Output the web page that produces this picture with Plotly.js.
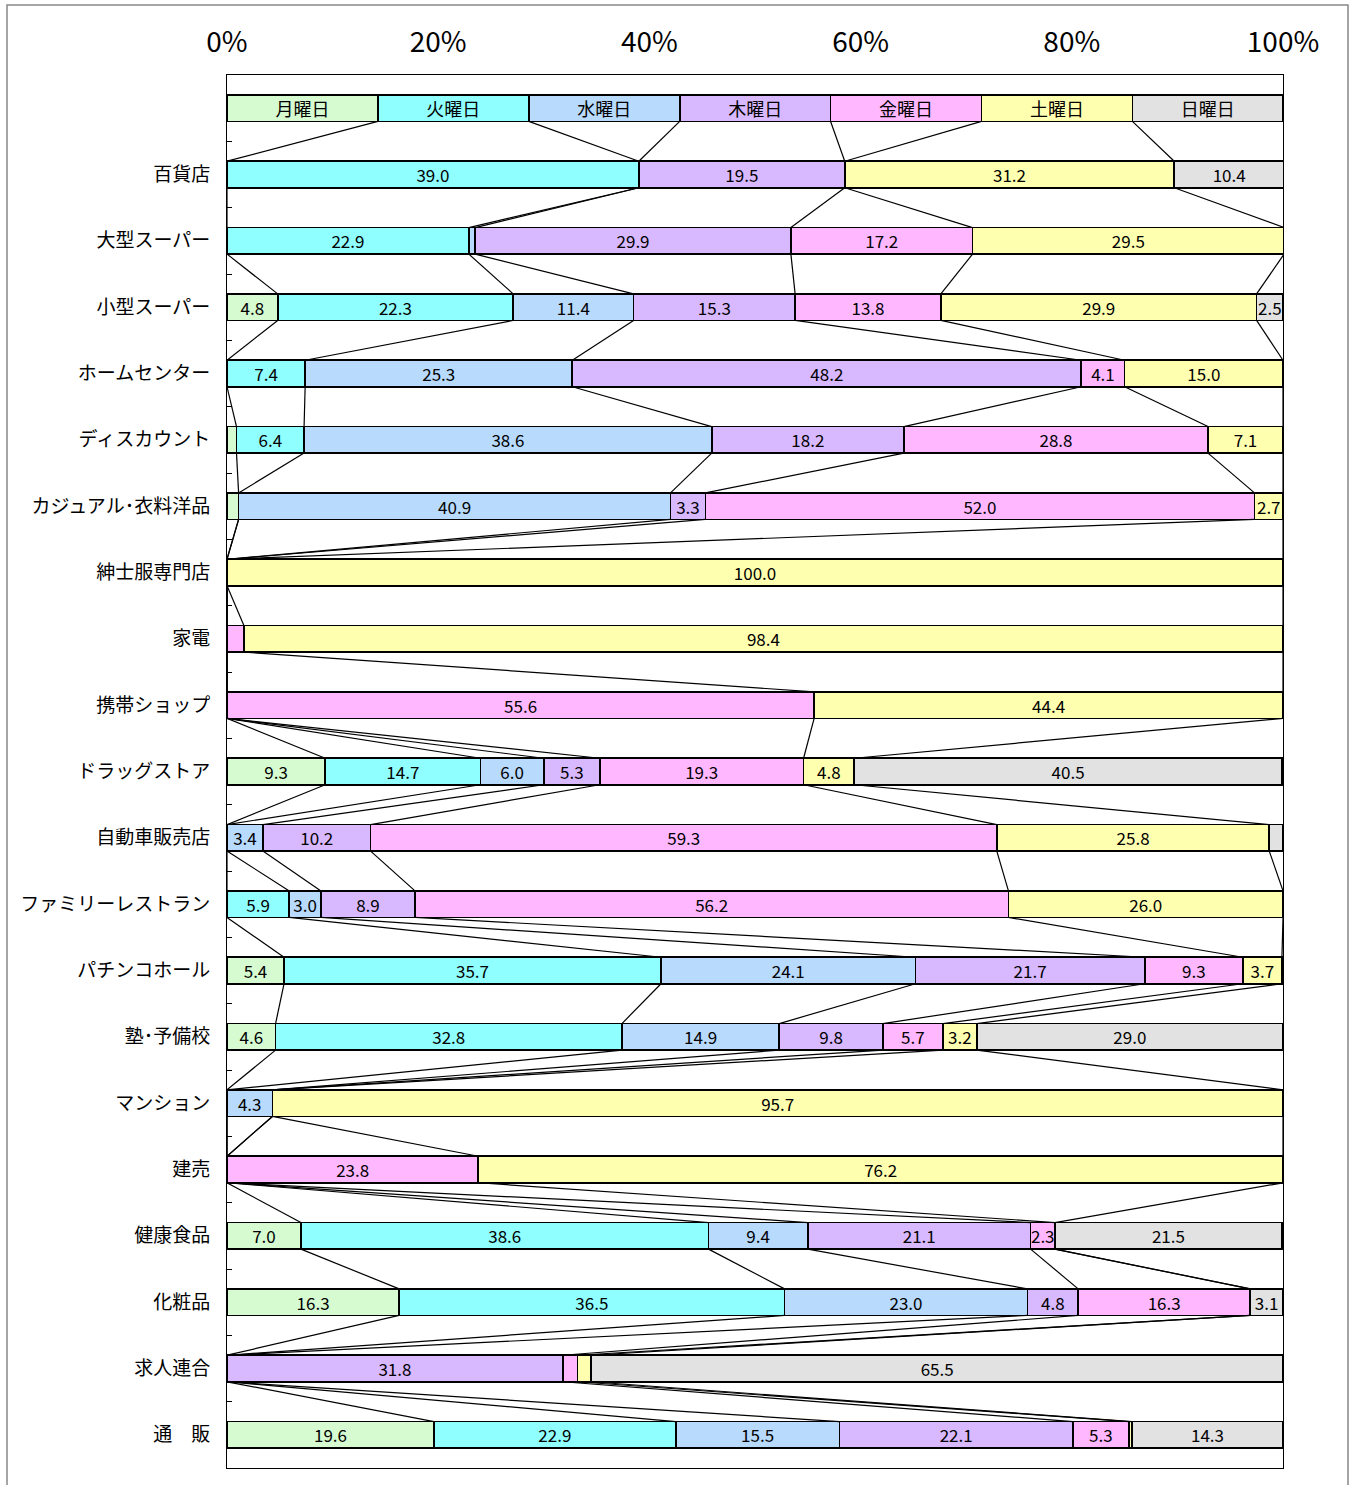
<!DOCTYPE html>
<html>
<head>
<meta charset="utf-8">
<script src="https://cdn.plot.ly/plotly-3.0.1.min.js"></script>
<style>
  body { margin: 0; background: #fff; }
  #chart { width: 1352px; height: 1485px; }
</style>
</head>
<body>
<div id="chart"></div>
<script>
// days (series) and their fill colours
const days = ['月曜日', '火曜日', '水曜日', '木曜日', '金曜日', '土曜日', '日曜日'];
const dayColors = ['#d6fbd0', '#90ffff', '#b8dafd', '#d8b8ff', '#ffb8ff', '#ffffb0', '#e2e2e2'];

// legend row at the top: seven equal parts
const legendShare = [14.29, 14.29, 14.29, 14.29, 14.29, 14.29, 14.29];

const categories = [
  '百貨店', '大型スーパー', '小型スーパー', 'ホームセンター', 'ディスカウント',
  'カジュアル･衣料洋品', '紳士服専門店', '家電', '携帯ショップ', 'ドラッグストア',
  '自動車販売店', 'ファミリーレストラン', 'パチンコホール', '塾･予備校', 'マンション',
  '建売', '健康食品', '化粧品', '求人連合', '通　販'
];

// share (%) per day of week, one value per category
const mon = [0, 0, 4.8, 0, 0.9, 1.1, 0, 0, 0, 9.3, 0, 0, 5.4, 4.6, 0, 0, 7.0, 16.3, 0, 19.6];
const tue = [39.0, 22.9, 22.3, 7.4, 6.4, 0, 0, 0, 0, 14.7, 0, 5.9, 35.7, 32.8, 0, 0, 38.6, 36.5, 0, 22.9];
const wed = [0, 0.6, 11.4, 25.3, 38.6, 40.9, 0, 0, 0, 6.0, 3.4, 3.0, 24.1, 14.9, 4.3, 0, 9.4, 23.0, 0, 15.5];
const thu = [19.5, 29.9, 15.3, 48.2, 18.2, 3.3, 0, 0, 0, 5.3, 10.2, 8.9, 21.7, 9.8, 0, 0, 21.1, 4.8, 31.8, 22.1];
const fri = [0, 17.2, 13.8, 4.1, 28.8, 52.0, 0, 1.6, 55.6, 19.3, 59.3, 56.2, 9.3, 5.7, 0, 23.8, 2.3, 16.3, 1.4, 5.3];
const sat = [31.2, 29.5, 29.9, 15.0, 7.1, 2.7, 100.0, 98.4, 44.4, 4.8, 25.8, 26.0, 3.7, 3.2, 95.7, 76.2, 0, 0, 1.3, 0.3];
const sun = [10.4, 0, 2.5, 0, 0, 0, 0, 0, 0, 40.5, 1.3, 0, 0, 29.0, 0, 0, 21.5, 3.1, 65.5, 14.3];

const series = [mon, tue, wed, thu, fri, sat, sun];
const xTicks = [0, 20, 40, 60, 80, 100];

const BAR_W = 0.4;
const numFont = 'Liberation Sans Narrow, Arial Narrow, Noto Sans CJK JP, sans-serif';
const jpFont = 'Noto Sans CJK JP, sans-serif';

// row 0 is the legend bar, rows 1..n are categories
const rows = [0].concat(categories.map((c, i) => i + 1));
const rowVals = series.map((s, d) => [legendShare[d]].concat(s));

// cumulative right edges per series
const cum = [];
rowVals.forEach((vals, d) => {
  cum.push(vals.map((v, r) => (d > 0 ? cum[d - 1][r] : 0) + v));
});

let traces = [];

// stacked bars, legend row carries the day name, others the value
days.forEach((day, d) => {
  traces.push({
    type: 'bar',
    orientation: 'h',
    name: day,
    x: rowVals[d],
    y: rows,
    width: BAR_W,
    text: rowVals[d].map((v, r) => (r === 0 ? day : (v >= 2 ? v.toFixed(1) : ''))),
    textposition: 'inside',
    insidetextanchor: 'middle',
    textangle: 0,
    constraintext: 'none',
    textfont: {
      family: rows.map(r => (r === 0 ? jpFont : numFont)),
      size: rows.map(r => (r === 0 ? 18 : 17)),
      color: '#000'
    },
    marker: { color: dayColors[d], line: { color: '#000', width: 1.7 } },
    hoverinfo: 'skip',
    showlegend: false
  });
});

// series lines between neighbouring bars
let lx = [], ly = [];
for (let d = 0; d < days.length - 1; d++) {
  for (let r = 0; r < rows.length - 1; r++) {
    lx.push(cum[d][r], cum[d][r + 1], null);
    ly.push(rows[r] + BAR_W / 2, rows[r + 1] - BAR_W / 2, null);
  }
}
traces.push({
  type: 'scatter', mode: 'lines', x: lx, y: ly,
  line: { color: '#000', width: 1.2 },
  hoverinfo: 'skip', showlegend: false, cliponaxis: false
});

// outer chart frame in paper coordinates
const ml = 227, mr = 69, mt = 75, mb = 17, W = 1352, H = 1485;
const pw = W - ml - mr, ph = H - mt - mb;
const px = v => (v - ml) / pw;
const py = v => (H - mb - v) / ph;

const layout = {
  width: W, height: H,
  margin: { l: ml, r: mr, t: mt, b: mb },
  barmode: 'stack',
  paper_bgcolor: '#fff',
  plot_bgcolor: '#fff',
  xaxis: {
    side: 'top',
    range: [0, 100],
    tickvals: xTicks,
    ticktext: xTicks.map(v => v + '%'),
    tickfont: { family: numFont, size: 28, color: '#000' },
    ticks: '',
    ticklabelstandoff: 11,
    showgrid: false, zeroline: false,
    showline: true, mirror: true, linecolor: '#000', linewidth: 1,
    fixedrange: true
  },
  yaxis: {
    range: [rows.length - 0.5, -0.5],
    tickvals: rows.slice(1),
    ticktext: categories,
    tickfont: { family: jpFont, size: 19, color: '#000' },
    ticks: '',
    ticklabelstandoff: 12,
    minor: {
      tickmode: 'array',
      tickvals: rows.slice(0, -1).map(r => r + 0.5),
      ticks: 'inside', ticklen: 5, tickwidth: 1, tickcolor: '#000'
    },
    showgrid: false, zeroline: false,
    showline: true, mirror: true, linecolor: '#000', linewidth: 1,
    fixedrange: true
  },
  shapes: [{
    type: 'rect', xref: 'paper', yref: 'paper',
    x0: px(7), x1: px(1348), y0: py(1492), y1: py(5),
    line: { color: '#888', width: 1.5 }
  }]
};

Plotly.newPlot('chart', traces, layout, { displayModeBar: false, staticPlot: true });
</script>
</body>
</html>
